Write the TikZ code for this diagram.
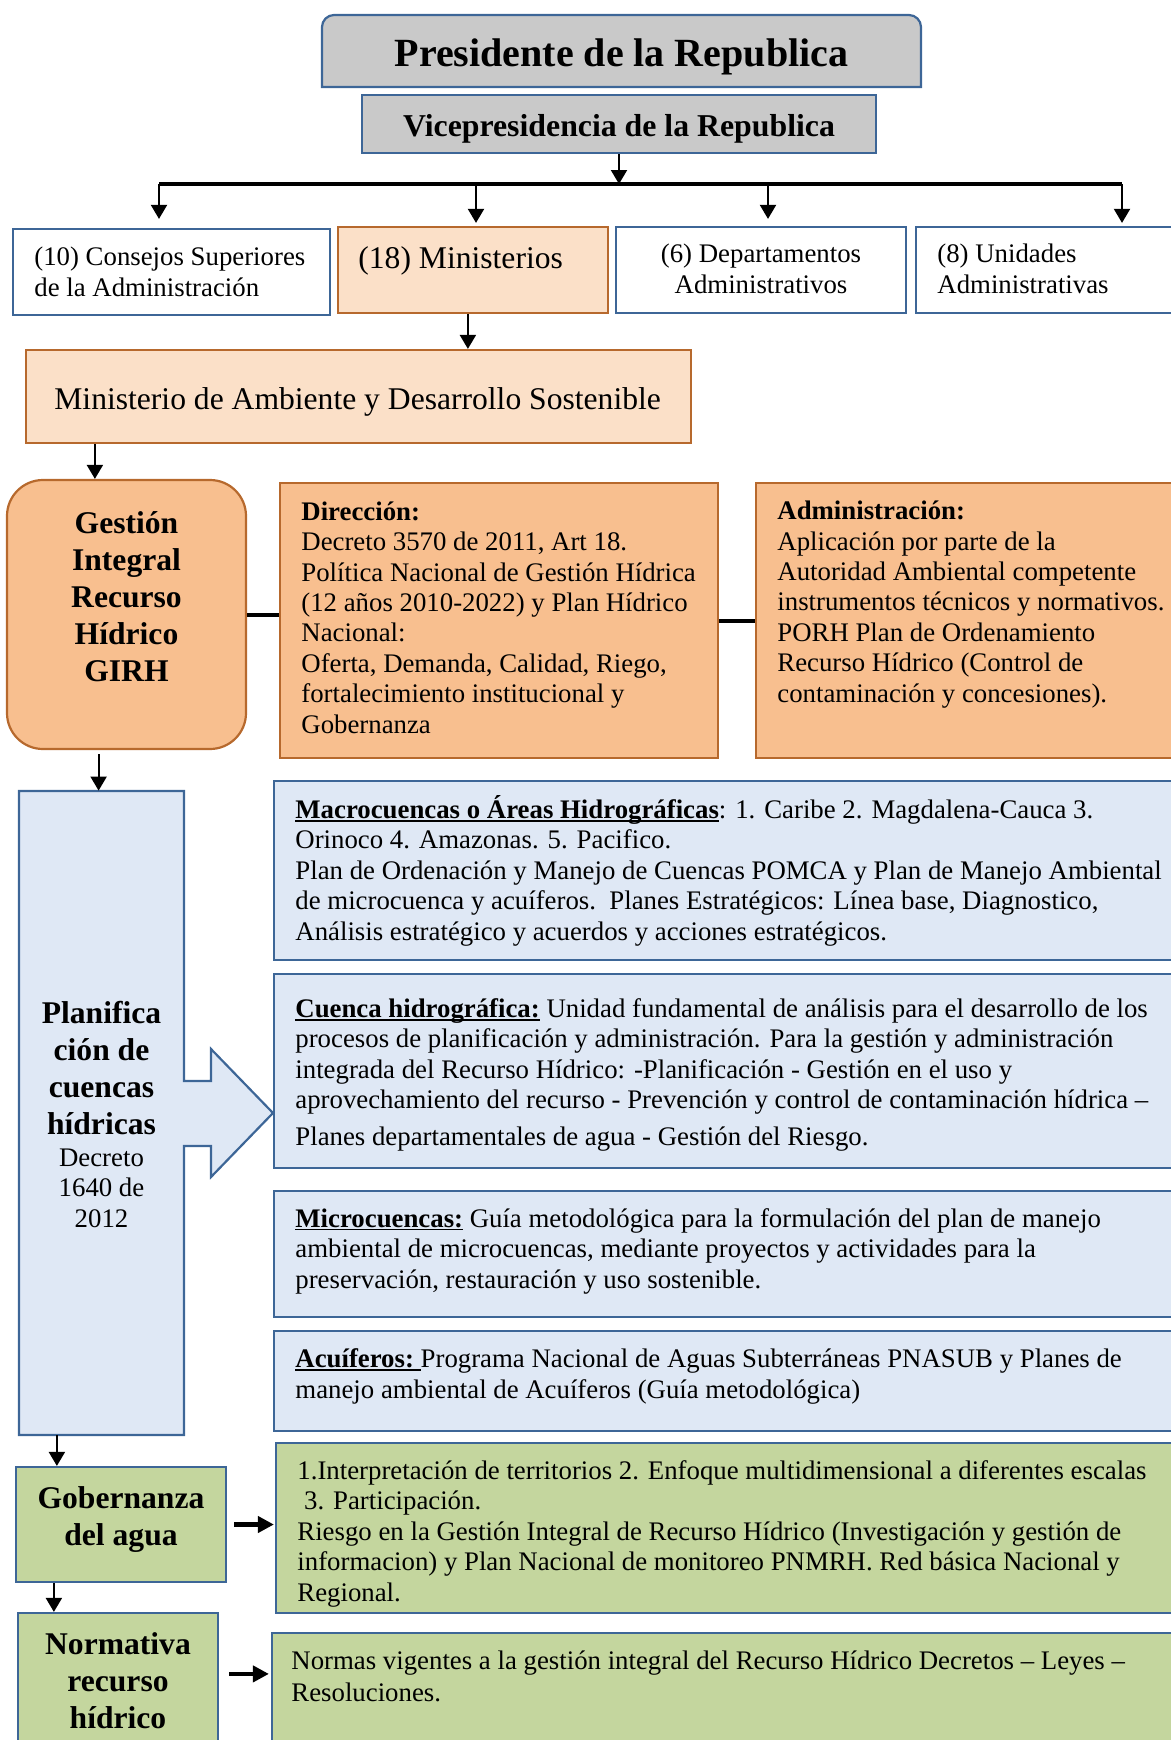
\documentclass[tikz,border=0pt]{standalone}
\usepackage{fontspec}
\setmainfont{Liberation Serif}
\usetikzlibrary{arrows.meta,fit,calc}
\definecolor{bblue}{HTML}{3D6697}
\definecolor{gfill}{HTML}{C9C9C9}
\definecolor{peach}{HTML}{FBE0C8}
\definecolor{orfill}{HTML}{F8BF8F}
\definecolor{orline}{HTML}{B7692D}
\definecolor{lblue}{HTML}{DFE8F5}
\definecolor{grfill}{HTML}{C4D69E}
\newcommand\bodyf{\fontsize{13.4pt}{15.2pt}\selectfont}
\newcommand\headf{\fontsize{15.8pt}{18.4pt}\selectfont\bfseries}
\newcommand\midf{\fontsize{15.8pt}{18.4pt}\selectfont}
\newcommand\myul[1]{\setbox0=\hbox{#1}\rlap{\rule[-1.6pt]{\wd0}{0.8pt}}\box0\relax}
\begin{document}
\begin{tikzpicture}[x=0.5pt,y=-0.5pt,
  bbox/.style={draw=bblue, line width=1.1pt, inner sep=0pt},
  obox/.style={draw=orline, line width=1.1pt, inner sep=0pt},
  txt/.style={inner sep=0pt, anchor=base west, align=left, font=\bodyf},
  ctxt/.style={inner sep=0pt, anchor=base, align=center},
  arr/.style={-{Triangle[length=7pt,width=8pt]}, line width=1pt},
  tarr/.style={-{Triangle[length=8pt,width=8pt]}, line width=2.2pt},
  thick line/.style={line width=2pt}]
\useasboundingbox (0,0) rectangle (1171,1740);
\clip (0,0) rectangle (1171,1740);

% Presidente
\filldraw[fill=gfill, draw=bblue, line width=1.1pt]
  (322,87) -- (322,27) .. controls (322,20.4) and (327.4,15) .. (334,15)
  -- (909,15) .. controls (915.6,15) and (921,20.4) .. (921,27) -- (921,87) -- cycle;
\node[fit={(322,15)(921,87)}, inner sep=0pt] (pres) {};
\node[ctxt, font=\fontsize{20pt}{24pt}\selectfont\bfseries] (prest) at (621.5,66) {Presidente de la Republica};

% Vicepresidencia
\node[bbox, fill=gfill, fit={(362,95)(876,153)}] (vice) {};
\node[ctxt, font=\fontsize{15.9pt}{19pt}\selectfont\bfseries] (vicet) at (619,136) {Vicepresidencia de la Republica};

% bar
\coordinate (barL) at (159,184);
\coordinate (barR) at (1122,184);
\coordinate (barM) at (476,184);
\coordinate (barD) at (768,184);
\draw[arr] (vice.south) -- (vice.south |- barL);
\draw[thick line] (barL) -- (barR);

% second row (multi-line nodes: base = last line)
\node[bbox, fill=white, fit={(13,229)(330,315)}] (cons) {};
\node[txt] (const) at (34,296) {(10) Consejos Superiores\\de la Administración};
\node[obox, fill=peach, fit={(338,227)(608,313)}] (mini) {};
\node[txt, font=\midf] (minit) at (358,268) {(18) Ministerios};
\node[bbox, fill=white, fit={(616,227)(906,313)}] (dep) {};
\node[ctxt, font=\bodyf] (dept) at (761,293) {(6) Departamentos\\Administrativos};
\node[bbox, fill=white, fit={(916,227)(1190,313)}] (uni) {};
\node[txt] (unit) at (937,293) {(8) Unidades\\Administrativas};

\draw[arr, shorten >=4.5pt] (barL) -- (barL |- cons.north);
\draw[arr, shorten >=1.5pt] (barM) -- (barM |- mini.north);
\draw[arr, shorten >=3.5pt] (barD) -- (barD |- dep.north);
\draw[arr, shorten >=1.5pt] (barR) -- (barR |- uni.north);

% Ministerio de Ambiente
\node[obox, fill=peach, fit={(26,350)(691,443)}] (amb) {};
\node[txt, font=\midf] (ambt) at (54,409) {Ministerio de Ambiente y Desarrollo Sostenible};
\coordinate (m2a) at ($(mini.south west)+(131,0)$);
\draw[arr] (m2a) -- (m2a |- amb.north);

% GIRH row
\node[obox, fill=orfill, rounded corners=18pt, fit={(7,480)(246,749)}] (girh) {};
\node[ctxt, font=\headf] (girht) at (126.5,681) {Gestión\\Integral\\Recurso\\Hídrico\\GIRH};
\coordinate (a2g) at ($(amb.south west)+(70,0)$);
\draw[arr] (a2g) -- (a2g |- girh.north);

\node[obox, fill=orfill, fit={(280,483)(718,758)}] (dir) {};
\node[txt] (dirt) at (301,733) {\textbf{Dirección:}\\Decreto 3570 de 2011, Art 18.\\Política Nacional de Gestión Hídrica\\(12 años 2010-2022) y Plan Hídrico\\Nacional:\\Oferta, Demanda, Calidad, Riego,\\fortalecimiento institucional y\\Gobernanza};
\node[obox, fill=orfill, fit={(756,483)(1190,758)}] (adm) {};
\node[txt] (admt) at (777,702) {\textbf{Administración:}\\Aplicación por parte de la\\Autoridad Ambiental competente\\instrumentos técnicos y normativos.\\PORH Plan de Ordenamiento\\Recurso Hídrico (Control de\\contaminación y concesiones).};
\draw[thick line] (girh.east) -- (girh.east -| dir.west);
\draw[thick line] (dir.east) -- (dir.east -| adm.west);

% Planificacion callout
\filldraw[fill=lblue, draw=bblue, line width=1.1pt]
  (19,791) -- (184,791) -- (184,1081) -- (211,1081) -- (211,1049) -- (273,1113)
  -- (211,1177) -- (211,1146) -- (184,1146) -- (184,1435) -- (19,1435) -- cycle;
\node[fit={(19,791)(184,1435)}, inner sep=0pt] (plan) {};
\node[ctxt, font=\headf] (plant) at (101.5,1134) {Planifica\\ción de\\cuencas\\hídricas};
\node[ctxt, font=\bodyf] (plant2) at (101.5,1227) {Decreto\\1640 de\\2012};
\coordinate (g2p) at ($(plan.north west)+(80,0)$);
\draw[arr, shorten <=2pt] (g2p |- girh.south) -- (g2p);

% blue boxes
\node[bbox, fill=lblue, fit={(274,781)(1190,960)}] (macro) {};
\node[txt] (macrot) at (295,940) {\myul{\textbf{Macrocuencas o Áreas Hidrográficas}}: 1. Caribe 2. Magdalena-Cauca 3.\\Orinoco 4. Amazonas. 5. Pacifico.\\Plan de Ordenación y Manejo de Cuencas POMCA y Plan de Manejo Ambiental\\de microcuenca y acuíferos.\ \ Planes Estratégicos: Línea base, Diagnostico,\\Análisis estratégico y acuerdos y acciones estratégicos.};
\node[bbox, fill=lblue, fit={(274,974)(1190,1168)}] (cuen) {};
\node[txt] (cuent) at (295,1145) {\myul{\textbf{Cuenca hidrográfica:}} Unidad fundamental de análisis para el desarrollo de los\\procesos de planificación y administración. Para la gestión y administración\\integrada del Recurso Hídrico: -Planificación - Gestión en el uso y\\aprovechamiento del recurso - Prevención y control de contaminación hídrica –\\[3pt]Planes departamentales de agua - Gestión del Riesgo.};
\node[bbox, fill=lblue, fit={(274,1191)(1190,1317)}] (micro) {};
\node[txt] (microt) at (295,1288) {\myul{\textbf{Microcuencas:}} Guía metodológica para la formulación del plan de manejo\\ambiental de microcuencas, mediante proyectos y actividades para la\\preservación, restauración y uso sostenible.};
\node[bbox, fill=lblue, fit={(274,1331)(1190,1431)}] (acui) {};
\node[txt] (acuit) at (295,1398) {\myul{\textbf{Acuíferos:}\ }Programa Nacional de Aguas Subterráneas PNASUB y Planes de\\manejo ambiental de Acuíferos (Guía metodológica)};

% Gobernanza
\node[bbox, fill=grfill, fit={(16,1467)(226,1582)}] (gob) {};
\node[ctxt, font=\headf] (gobt) at (121,1545) {Gobernanza\\del agua};
\coordinate (p2g) at ($(gob.north west)+(42,0)$);
\draw[arr] (p2g |- plan.south) -- (p2g);
\node[bbox, fill=grfill, fit={(276,1443)(1190,1613)}] (gr1) {};
\node[txt] (gr1t) at (297,1601) {1.Interpretación de territorios 2. Enfoque multidimensional a diferentes escalas\\\ 3. Participación.\\Riesgo en la Gestión Integral de Recurso Hídrico (Investigación y gestión de\\informacion) y Plan Nacional de monitoreo PNMRH. Red básica Nacional y\\Regional.};
\draw[tarr, shorten <=3.5pt, shorten >=0.5pt] (gob.east) -- (gob.east -| gr1.west);

% Normativa
\node[bbox, fill=grfill, fit={(18,1613)(218,1760)}] (norm) {};
\node[ctxt, font=\headf] (normt) at (118,1728) {Normativa\\recurso\\hídrico};
\coordinate (g2n) at ($(gob.south west)+(39,0)$);
\draw[arr] (g2n) -- (g2n |- norm.north);
\node[bbox, fill=grfill, fit={(272,1633)(1190,1760)}] (gr2) {};
\node[txt] (gr2t) at (291,1701) {Normas vigentes a la gestión integral del Recurso Hídrico Decretos – Leyes –\\[0.8pt]Resoluciones.};
\coordinate (n2g) at ($(norm.north east)+(0,62)$);
\draw[tarr, shorten <=5pt, shorten >=1pt] (n2g) -- (n2g -| gr2.west);
\end{tikzpicture}
\end{document}
